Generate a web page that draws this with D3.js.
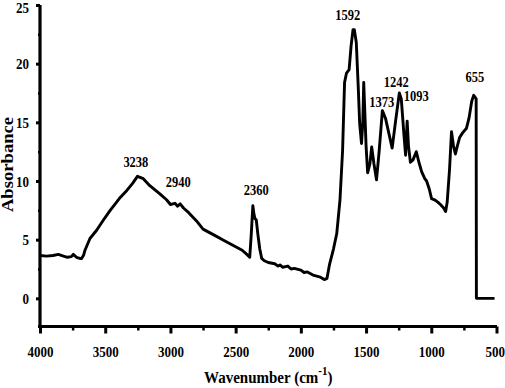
<!DOCTYPE html>
<html>
<head>
<meta charset="utf-8">
<script src="https://cdn.jsdelivr.net/npm/d3@7"></script>
<style>
body { margin: 0; background: #fff; }
text { font-family: "Liberation Serif", "Times New Roman", serif; font-weight: bold; fill: #000; }
</style>
</head>
<body>
<script>
// spectrum (wavenumber in cm-1, absorbance)
var wavenumber = [4000, 3950, 3900, 3860, 3820, 3790, 3760, 3745, 3720, 3695, 3681, 3665, 3655, 3617, 3566, 3515,
  3462, 3420, 3385, 3334, 3290, 3253, 3208, 3158, 3081, 3030, 3000, 2965, 2945, 2925, 2900, 2860, 2800, 2750,
  2700, 2650, 2600, 2550, 2500, 2450, 2410, 2392, 2380, 2368, 2360, 2352, 2342, 2330, 2315, 2300, 2280, 2250,
  2200, 2175, 2160, 2140, 2100, 2075, 2050, 2000, 1975, 1950, 1900, 1850, 1820, 1800, 1780, 1750, 1725, 1700, 1680, 1665, 1650,
  1630, 1615, 1600, 1590, 1575, 1560, 1549, 1535, 1525, 1518, 1510, 1500, 1488, 1470, 1457, 1440, 1420, 1400,
  1375, 1350, 1320, 1300, 1275, 1245, 1230, 1210, 1197, 1185, 1175, 1160, 1140, 1115, 1095, 1074, 1050, 1036,
  1015, 998, 975, 950, 930, 905, 890, 878, 860, 845, 830, 815, 800, 783, 760, 730, 710, 690, 675, 662, 656,
  654, 515];
var absorbance = [3.65, 3.6, 3.65, 3.75, 3.6, 3.5, 3.55, 3.75, 3.5, 3.4, 3.4, 3.7, 4.1, 5.1, 5.8, 6.65,
  7.5, 8.1, 8.6, 9.2, 9.8, 10.4, 10.2, 9.6, 8.9, 8.4, 8.0, 8.1, 7.85, 8.05, 7.7, 7.3, 6.6, 5.9,
  5.6, 5.3, 5.0, 4.7, 4.4, 4.1, 3.7, 3.5, 5.5, 7.9, 7.2, 6.8, 6.7, 5.5, 4.2, 3.4, 3.2, 3.05,
  2.95, 2.75, 2.85, 2.65, 2.75, 2.5, 2.55, 2.4, 2.2, 2.25, 1.95, 1.8, 1.6, 1.7, 2.9, 4.2, 5.5, 8.4, 12.6, 18.4, 19.2,
  19.5, 21.5, 22.9, 22.9, 21.8, 18.0, 14.9, 13.2, 15.0, 18.4, 16.0, 13.0, 10.7, 11.5, 12.9, 11.5, 10.1, 12.5,
  16.0, 15.3, 13.8, 12.8, 15.0, 17.5, 17.0, 14.0, 12.2, 15.1, 13.0, 11.6, 11.8, 12.5, 11.6, 10.8, 10.2, 10.0,
  9.3, 8.5, 8.4, 8.2, 8.0, 7.7, 7.4, 8.2, 11.0, 14.2, 13.0, 12.3, 13.0, 13.7, 14.1, 14.5, 15.4, 16.8, 17.3, 17.1, 17.0,
  0, 0];

// peak labels: text, centre wavenumber, baseline absorbance
var peakText = ["3238", "2940", "2360", "1592", "1373", "1242", "1093", "655"];
var peakX = [3265, 2940, 2342, 1640, 1380, 1268, 1115, 665];
var peakY = [11.2, 9.5, 8.8, 23.7, 16.3, 18.0, 16.8, 18.45];

var xTicks = [4000, 3500, 3000, 2500, 2000, 1500, 1000, 500];
var xMinor = [3750, 3250, 2750, 2250, 1750, 1250, 750];
var yTicks = [0, 5, 10, 15, 20, 25];
var yMinor = [2.5, 7.5, 12.5, 17.5, 22.5];

var stretch = 1.18;  // the original type is drawn a bit taller than wide

var margin = {top: 5, right: 8.5, bottom: 61.5, left: 40},
    width = 505 - margin.left - margin.right,
    height = 388 - margin.top - margin.bottom;

var x = d3.scaleLinear().domain([4000, 500]).range([0, width]),
    y = d3.scaleLinear().domain([-2.4, 25]).range([height, 0]);

var svg = d3.select("body").append("svg")
    .attr("width", width + margin.left + margin.right)
    .attr("height", height + margin.top + margin.bottom)
  .append("g")
    .attr("transform", "translate(" + margin.left + "," + margin.top + ")");

// spectrum line
var line = d3.line()
    .x(function(d, i) { return x(wavenumber[i]); })
    .y(function(d) { return y(d); });

svg.append("path")
    .datum(absorbance)
    .attr("fill", "none")
    .attr("stroke", "#000")
    .attr("stroke-width", 2.9)
    .attr("stroke-linejoin", "round")
    .attr("d", line);

// minor ticks
svg.append("g")
    .attr("transform", "translate(0," + height + ")")
    .call(d3.axisBottom(x).tickValues(xMinor).tickSize(4).tickSizeOuter(0).tickFormat(""))
    .call(function(g) { g.select(".domain").remove(); g.selectAll("line").attr("stroke-width", 2.5); });

svg.append("g")
    .call(d3.axisLeft(y).tickValues(yMinor).tickSize(2).tickSizeOuter(0).tickFormat(""))
    .call(function(g) { g.select(".domain").remove(); g.selectAll("line").attr("stroke-width", 2.5); });

// x axis
var gx = svg.append("g")
    .attr("transform", "translate(0," + height + ")")
    .call(d3.axisBottom(x).tickValues(xTicks).tickSize(7).tickSizeOuter(0).tickFormat(d3.format("d")));
gx.select(".domain").attr("stroke-width", 3.2).attr("d", "M-2,0H" + (width + 0.5));
gx.selectAll(".tick line").attr("stroke-width", 3);
gx.selectAll(".tick text")
    .attr("y", 0).attr("dy", null)
    .attr("font-size", 13)
    .attr("transform", "translate(0,30.5) scale(1," + stretch + ")");
// last label sits against the right edge, as in the original
gx.selectAll(".tick text").filter(function(d) { return d === 500; })
    .attr("text-anchor", "end")
    .attr("transform", "translate(8,30.5) scale(1," + stretch + ")");

// y axis
var gy = svg.append("g")
    .call(d3.axisLeft(y).tickValues(yTicks).tickSize(4).tickSizeOuter(0));
gy.select(".domain").attr("stroke-width", 3.2).attr("d", "M0," + (height + 1.5) + "V" + y(25));
gy.selectAll(".tick line").attr("stroke-width", 3);
gy.selectAll(".tick text")
    .attr("x", 0).attr("dy", null)
    .attr("font-size", 13)
    .attr("transform", function(d) {
      return "translate(-11," + (d === 25 ? 7.2 : 5.2) + ") scale(1," + stretch + ")";
    });

svg.selectAll(".domain, .tick line").attr("stroke", "#000");

// peak labels
svg.selectAll(".peak")
    .data(peakText)
  .enter().append("text")
    .attr("class", "peak")
    .attr("text-anchor", "middle")
    .attr("font-size", 12.5)
    .attr("transform", function(d, i) {
      return "translate(" + x(peakX[i]) + "," + y(peakY[i]) + ") scale(1," + stretch + ")";
    })
    .text(String);

// axis titles
var xt = svg.append("text")
    .attr("text-anchor", "middle")
    .attr("font-size", 15)
    .attr("transform", "translate(" + (width / 2) + "," + (height + 56) + ") scale(1," + stretch + ")");
xt.append("tspan").text("Wavenumber (cm");
xt.append("tspan").attr("font-size", 11).attr("dy", -6).text("-1");
xt.append("tspan").attr("dy", 6).text(")");

svg.append("text")
    .attr("text-anchor", "middle")
    .attr("font-size", 15.8)
    .attr("transform", "translate(" + (12.5 - margin.left) + "," + 159.5 + ") scale(1," + stretch + ") rotate(-90)")
    .text("Absorbance");
</script>
</body>
</html>
